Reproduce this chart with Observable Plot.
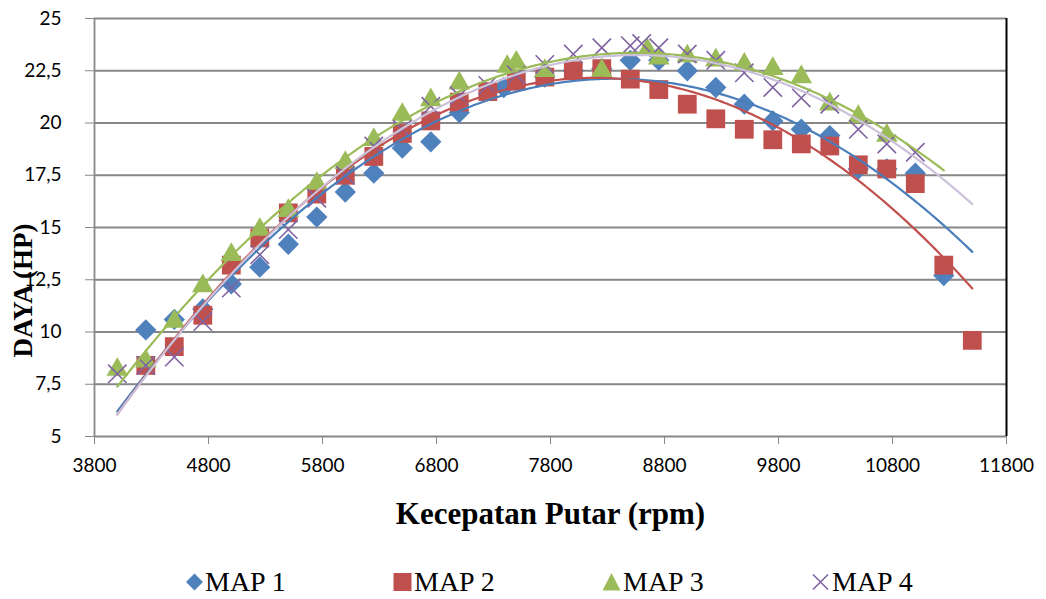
<!DOCTYPE html>
<html>
<head>
<meta charset="utf-8">
<script src="https://cdn.jsdelivr.net/npm/d3@7"></script>
<script src="https://cdn.jsdelivr.net/npm/@observablehq/plot@0.6"></script>
<style>
  html, body { margin: 0; padding: 0; background: #fff; }
  #wrap { position: relative; width: 1046px; height: 599px; }
  #legend { position: absolute; left: 0; top: 570px; width: 1046px; height: 24px;
    font-family: "Liberation Serif", "Times New Roman", serif; font-size: 28px; line-height: 24px; color: #000; }
  .item { position: absolute; top: 0; height: 24px; white-space: nowrap; display: flex; align-items: center; }
  .item svg { display: block; margin-right: 2px; }
</style>
</head>
<body>
<div id="wrap">
  <div id="chart"></div>
  <div id="legend"></div>
</div>
<script>
// ---------- data ----------
const seriesNames = ["MAP 1", "MAP 2", "MAP 3", "MAP 4"];

const map1Rpm  = [4250, 4500, 4750, 5000, 5250, 5500, 5750, 6000, 6250, 6500, 6750, 7000, 7390, 7750, 8000, 8250, 8500, 8750, 9000, 9250, 9500, 9750, 10000, 10250, 10500, 10750, 11000, 11250];
const map1Daya = [10.1, 10.6, 11.1, 12.3, 13.1, 14.2, 15.5, 16.7, 17.6, 18.8, 19.1, 20.5, 21.7, 22.2, 22.5, 22.6, 23.0, 23.0, 22.5, 21.7, 20.9, 20.1, 19.7, 19.4, 17.8, 17.8, 17.6, 12.7];

const map2Rpm  = [4250, 4500, 4750, 5000, 5250, 5500, 5750, 6000, 6250, 6500, 6750, 7000, 7250, 7500, 7750, 8000, 8250, 8500, 8750, 9000, 9250, 9500, 9750, 10000, 10250, 10500, 10750, 11000, 11250, 11500];
const map2Daya = [8.4, 9.3, 10.8, 13.2, 14.5, 15.7, 16.6, 17.5, 18.4, 19.5, 20.1, 21.0, 21.5, 22.0, 22.2, 22.5, 22.6, 22.1, 21.6, 20.9, 20.2, 19.7, 19.2, 19.0, 18.9, 18.0, 17.8, 17.1, 13.2, 9.6];

const map3Rpm  = [4000, 4250, 4500, 4750, 5000, 5250, 5500, 5750, 6000, 6250, 6500, 6750, 7000, 7420, 7500, 7750, 8250, 8650, 8750, 9000, 9250, 9500, 9750, 10000, 10250, 10500, 10750];
const map3Daya = [8.2, 8.6, 10.5, 12.2, 13.7, 14.9, 15.8, 17.1, 18.1, 19.2, 20.4, 21.1, 21.9, 22.7, 22.9, 22.5, 22.5, 23.5, 23.1, 23.2, 23.0, 22.8, 22.6, 22.2, 20.9, 20.3, 19.4];

const map4Rpm  = [4000, 4250, 4500, 4750, 5000, 5250, 5500, 5750, 6000, 6250, 6500, 6750, 7000, 7250, 7500, 7750, 8000, 8250, 8500, 8600, 8750, 9000, 9250, 9500, 9750, 10000, 10250, 10500, 10750, 11000];
const map4Daya = [8.0, 8.4, 8.8, 10.5, 12.1, 13.7, 14.9, 16.4, 17.5, 18.9, 19.7, 20.8, 21.3, 21.8, 22.3, 22.8, 23.3, 23.6, 23.7, 23.8, 23.6, 23.3, 23.0, 22.4, 21.7, 21.2, 20.9, 19.7, 19.0, 18.6];

// x-range over which each polynomial trendline (order 2) is drawn
const trendFrom = [4000, 4000, 4000, 4000];
const trendTo   = [11500, 11500, 11250, 11500];

const xTicks = [3800, 4800, 5800, 6800, 7800, 8800, 9800, 10800, 11800];
const yTicks = [5, 7.5, 10, 12.5, 15, 17.5, 20, 22.5, 25];

// ---------- styling ----------
const markerColors = ["#4F81BD", "#C0504D", "#9BBB59", "#8064A2"];
const lineColors   = ["#4A7EBB", "#C0504D", "#9BBB59", "#CCC1DA"];
const symbols      = ["diamond2", "square", "triangle", "times"];
const symbolR      = [9.6, 10.6, 8.0, 8.4];

const rpmList  = [map1Rpm, map2Rpm, map3Rpm, map4Rpm];
const dayaList = [map1Daya, map2Daya, map3Daya, map4Daya];

const points = seriesNames.map((name, i) =>
  rpmList[i].map((r, j) => ({series: name, rpm: r, daya: dayaList[i][j]})));

// least squares quadratic fit (like an Excel polynomial trendline, order 2)
function polyfit2(xs, ys) {
  const u = xs.map(x => x / 1000);
  let S = [0, 0, 0, 0, 0], T = [0, 0, 0];
  u.forEach((x, k) => {
    const y = ys[k];
    for (let p = 0; p < 5; p++) S[p] += Math.pow(x, p);
    for (let p = 0; p < 3; p++) T[p] += y * Math.pow(x, p);
  });
  const A = [[S[0], S[1], S[2]], [S[1], S[2], S[3]], [S[2], S[3], S[4]]];
  const det = m => m[0][0]*(m[1][1]*m[2][2]-m[1][2]*m[2][1]) - m[0][1]*(m[1][0]*m[2][2]-m[1][2]*m[2][0]) + m[0][2]*(m[1][0]*m[2][1]-m[1][1]*m[2][0]);
  const D = det(A);
  const c = [0, 1, 2].map(col => det(A.map((row, r) => row.map((v, cc) => cc === col ? T[r] : v))) / D);
  return x => { const t = x / 1000; return c[0] + c[1]*t + c[2]*t*t; };
}

const trends = seriesNames.map((name, i) => {
  const f = polyfit2(rpmList[i], dayaList[i]);
  return d3.range(trendFrom[i], trendTo[i] + 1, 25).map(r => ({series: name, rpm: r, daya: f(r)}));
});

const chart = Plot.plot({
  width: 1046,
  height: 548,
  marginLeft: 94,
  marginRight: 40,
  marginTop: 18,
  marginBottom: 112,
  style: {fontFamily: "Lato, 'Liberation Sans', sans-serif", fontSize: "19px", background: "#fff", color: "#000"},
  x: {domain: [3800, 11800]},
  y: {domain: [5, 25]},
  marks: [
    Plot.gridY(yTicks, {stroke: "#878787", strokeOpacity: 1, strokeWidth: 1.8}),
    Plot.ruleX([xTicks[0]], {stroke: "#878787", strokeWidth: 1.8}),
    ...points.map((pts, i) => Plot.dot(pts, {
      x: "rpm", y: "daya", symbol: () => symbols[i], r: symbolR[i],
      fill: i === 3 ? "none" : markerColors[i],
      stroke: i === 3 ? markerColors[i] : "none",
      strokeWidth: i === 3 ? 1.6 : 0
    })),
    ...trends.map((t, i) => Plot.line(t, {x: "rpm", y: "daya", stroke: lineColors[i], strokeWidth: 2.2})),
    Plot.ruleX([xTicks[xTicks.length - 1]], {stroke: "#000", strokeWidth: 2}),
    Plot.axisX({ticks: xTicks, tickSize: 8, tickPadding: 14, stroke: "#878787", fill: "#000", label: null, tickFormat: d => String(d)}),
    Plot.axisY({ticks: yTicks, tickSize: 9, tickPadding: 24, stroke: "#878787", fill: "#000", label: null,
      tickFormat: d => String(d).replace(".", ",")}),
    Plot.text(["Kecepatan Putar (rpm)"], {frameAnchor: "bottom", dy: 78, lineAnchor: "middle",
      fontFamily: "Liberation Serif", fontWeight: "bold", fontSize: 31, fill: "#000"}),
    Plot.text(["DAYA (HP)"], {frameAnchor: "left", dx: -71, dy: 63, rotate: -90, textAnchor: "middle",
      lineAnchor: "middle", fontFamily: "Liberation Serif", fontWeight: "bold", fontSize: 27, fill: "#000"})
  ]
});
document.getElementById("chart").appendChild(chart);

// ---------- legend ----------
const legendLeft = [186, 393, 602, 811];
const legendSvgs = [
  `<svg width="17" height="20" viewBox="-8.5 -10 17 20"><path d="M0,-8.5L8.5,0L0,8.5L-8.5,0Z" fill="${markerColors[0]}"/></svg>`,
  `<svg width="19" height="20" viewBox="-9.5 -10 19 20"><rect x="-9" y="-9" width="18" height="18" fill="${markerColors[1]}"/></svg>`,
  `<svg width="19" height="20" viewBox="-9.5 -10 19 20"><path d="M0,-9L9,8.5L-9,8.5Z" fill="${markerColors[2]}"/></svg>`,
  `<svg width="19" height="20" viewBox="-9.5 -10 19 20"><path d="M-7.5,-7.5L7.5,7.5M7.5,-7.5L-7.5,7.5" stroke="${markerColors[3]}" stroke-width="1.6"/></svg>`
];
const legend = document.getElementById("legend");
seriesNames.forEach((name, i) => {
  const it = document.createElement("div");
  it.className = "item";
  it.style.left = legendLeft[i] + "px";
  it.innerHTML = legendSvgs[i] + `<span>${name}</span>`;
  legend.appendChild(it);
});
</script>
</body>
</html>
